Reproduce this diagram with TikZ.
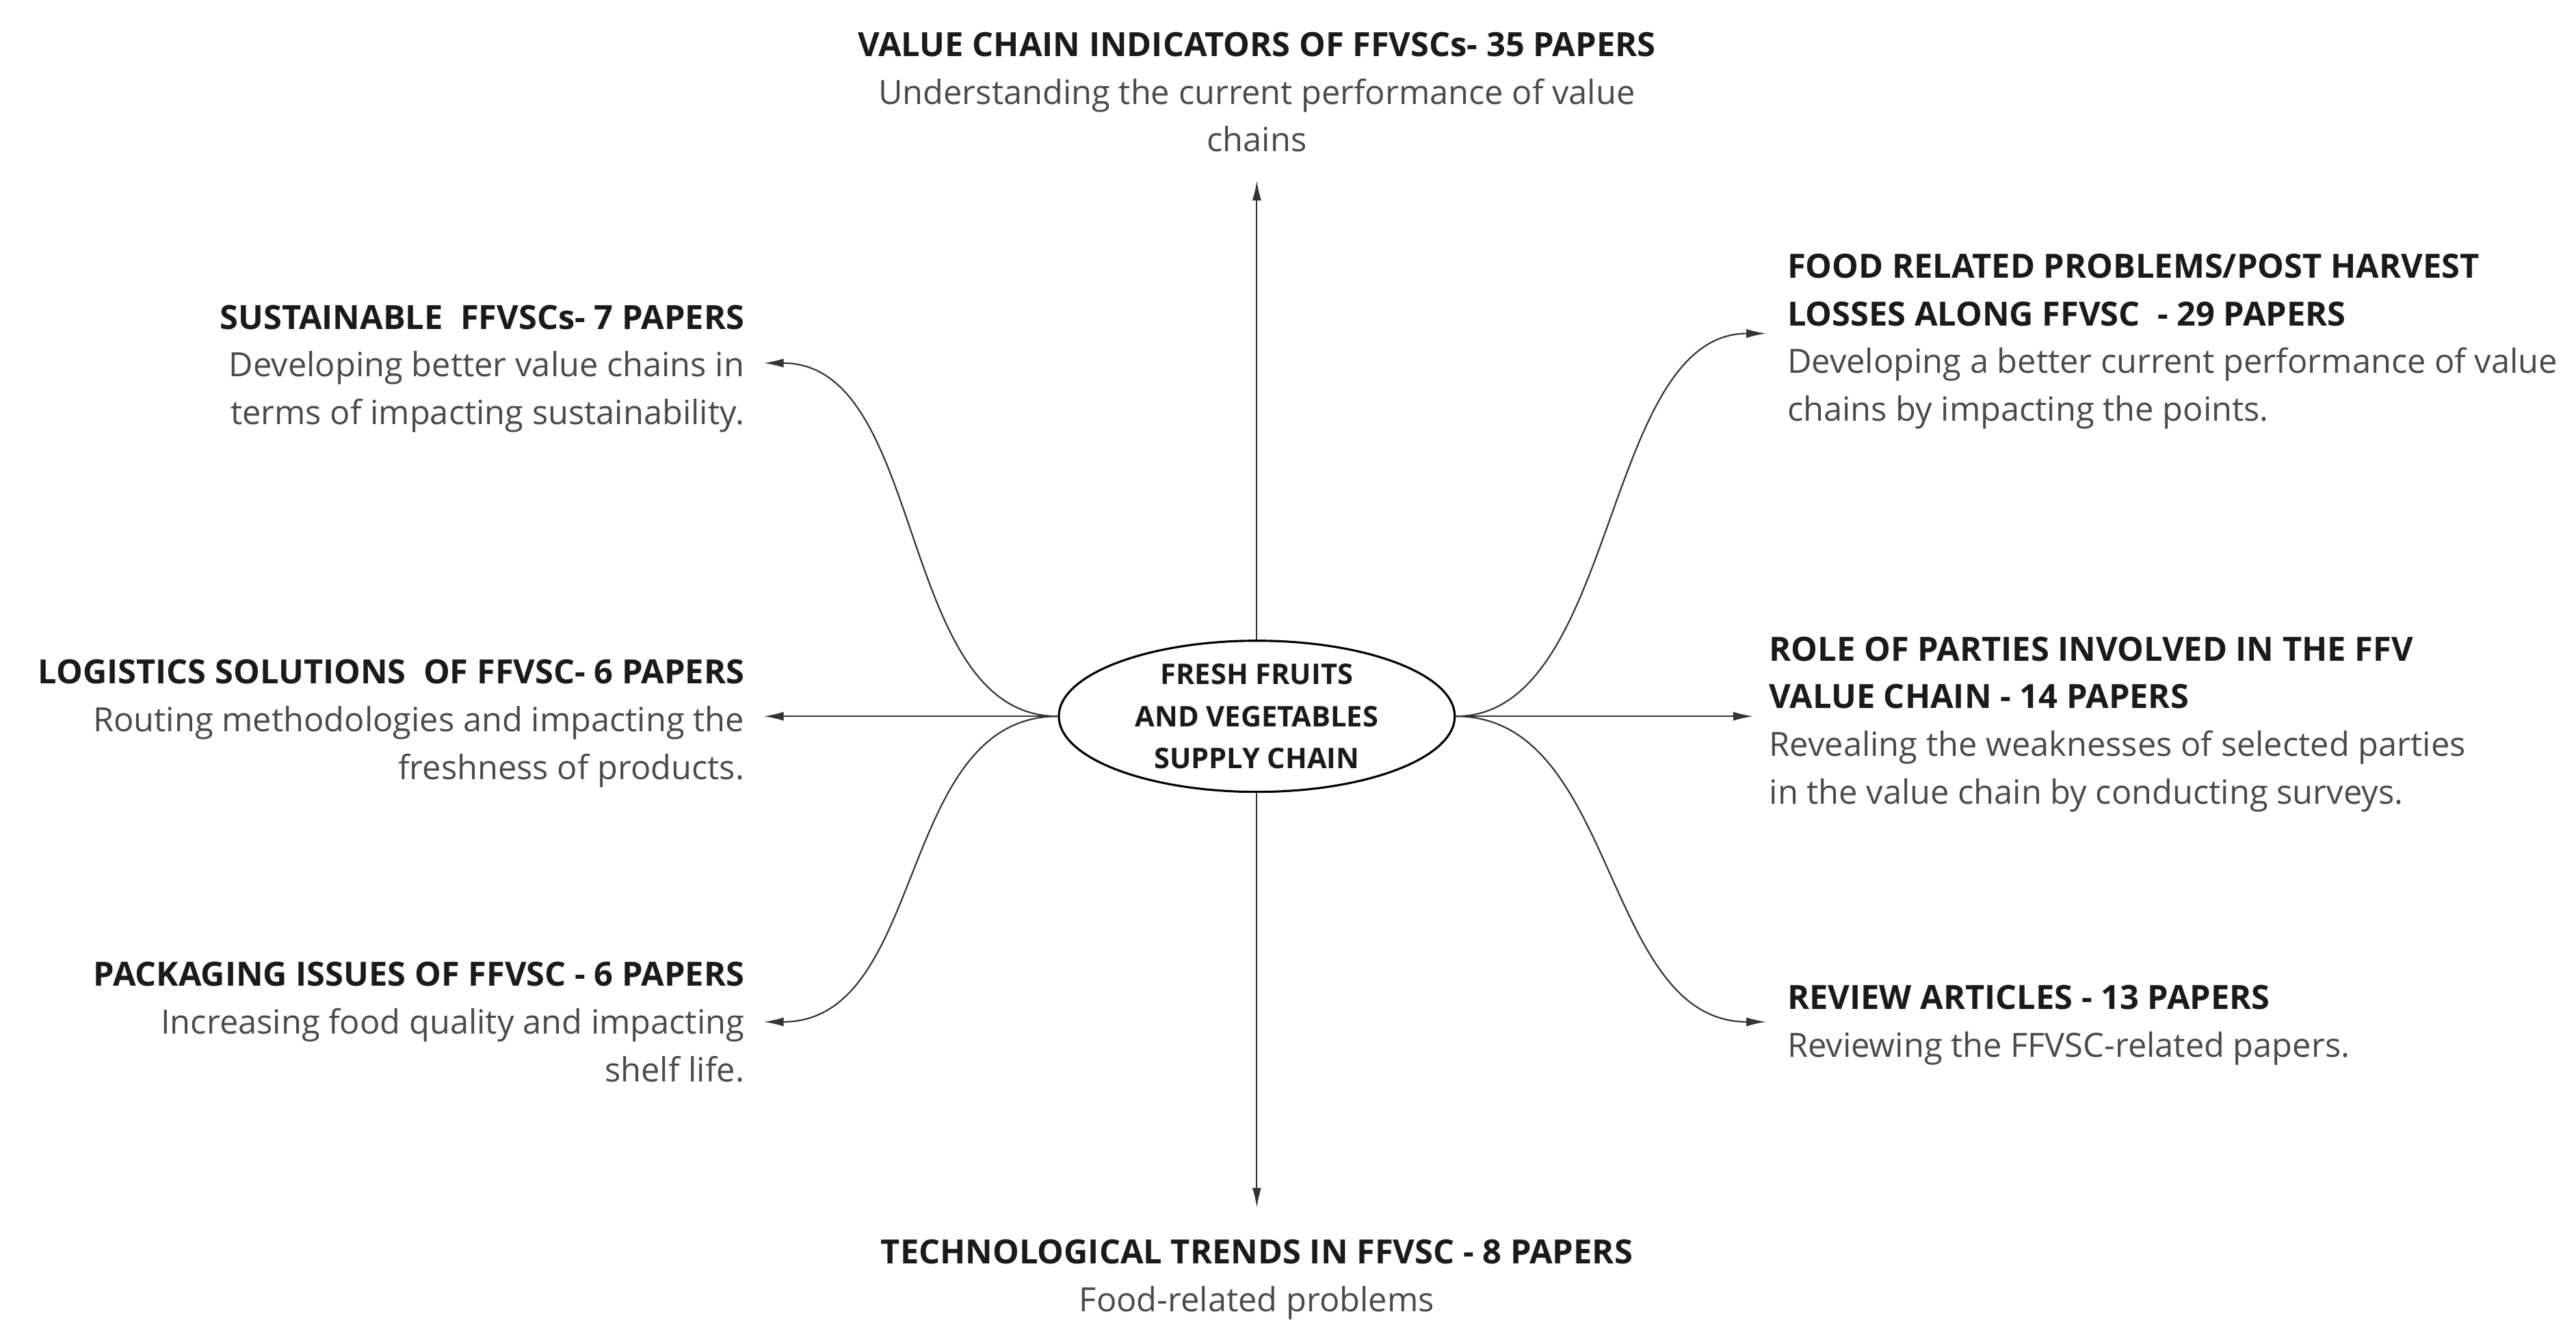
\documentclass[tikz,border=0pt]{standalone}
\usepackage{fontspec}
\setmainfont{Open Sans}
\usetikzlibrary{shapes.geometric,arrows.meta}
\definecolor{headc}{HTML}{1A1A1A}
\definecolor{bodyc}{HTML}{4A4A4A}
\definecolor{linec}{HTML}{333333}
\newcommand{\hd}[1]{{\bfseries\color{headc}#1}}
\begin{document}
\begin{tikzpicture}[x=1pt,y=-1pt,
  lbl/.style={inner sep=0pt,outer sep=0pt,text=bodyc,font=\fontsize{20.3}{29}\selectfont},
  lblL/.style={lbl,align=right,anchor=north east},
  lblR/.style={lbl,align=left,anchor=north west},
  lblC/.style={lbl,align=center,anchor=north},
  conn/.style={draw=linec,line width=0.9pt,-{Latex[length=12pt,width=5.5pt]}},
  hub/.style={ellipse,draw=black,line width=1.3pt,minimum width=241pt,minimum height=92pt,inner sep=0pt,align=center,font=\bfseries\fontsize{17.3}{25.5}\selectfont,text=headc}
]
\useasboundingbox (0,0) rectangle (1568,815.3);
\node[hub] (c) at (765,436) {FRESH FRUITS\\AND VEGETABLES\\SUPPLY CHAIN};

\coordinate (tUp) at (765,110);
\coordinate (tDn) at (765,735);
\coordinate (tL) at (465,436);
\coordinate (tR) at (1067,436);
\coordinate (tLU) at (465,221);
\coordinate (tLD) at (465,622);
\coordinate (tRU) at (1075,203);
\coordinate (tRD) at (1075,622);

\draw[conn] (c.north) -- (tUp);
\draw[conn] (c.south) -- (tDn);
\draw[conn] (c.west) -- (tL);
\draw[conn] (c.east) -- (tR);
\draw[conn] (c.west) .. controls (545,436) and (565,221) .. (tLU);
\draw[conn] (c.west) .. controls (545,436) and (565,622) .. (tLD);
\draw[conn] (c.east) .. controls (985,436) and (975,203) .. (tRU);
\draw[conn] (c.east) .. controls (985,436) and (975,622) .. (tRD);

\node[lblC] (top) at (765,14) {\strut\hd{VALUE CHAIN INDICATORS OF FFVSCs- 35 PAPERS}\\\strut Understanding the current performance of value\\\strut chains};
\node[lblL] (sus) at (453,180) {\strut\hd{SUSTAINABLE\ \ FFVSCs- 7 PAPERS}\\\strut Developing better value chains in\\\strut terms of impacting sustainability.};
\node[lblL] (log) at (453,396) {\strut\hd{LOGISTICS SOLUTIONS\ \ OF FFVSC- 6 PAPERS}\\\strut Routing methodologies and impacting the\\\strut freshness of products.};
\node[lblL] (pack) at (453,580) {\strut\hd{PACKAGING ISSUES OF FFVSC - 6 PAPERS}\\\strut Increasing food quality and impacting\\\strut shelf life.};
\node[lblR] (food) at (1088,149) {\strut\hd{FOOD RELATED PROBLEMS/POST HARVEST}\\\strut\hd{LOSSES ALONG FFVSC\ \ - 29 PAPERS}\\\strut Developing a better current performance of value\\\strut chains by impacting the points.};
\node[lblR] (role) at (1077,382) {\strut\hd{ROLE OF PARTIES INVOLVED IN THE FFV}\\\strut\hd{VALUE CHAIN - 14 PAPERS}\\\strut Revealing the weaknesses of selected parties\\\strut in the value chain by conducting surveys.};
\node[lblR] (rev) at (1088,594) {\strut\hd{REVIEW ARTICLES - 13 PAPERS}\\\strut Reviewing the FFVSC-related papers.};
\node[lblC] (tech) at (765,749) {\strut\hd{TECHNOLOGICAL TRENDS IN FFVSC - 8 PAPERS}\\\strut Food-related problems};
\end{tikzpicture}
\end{document}
